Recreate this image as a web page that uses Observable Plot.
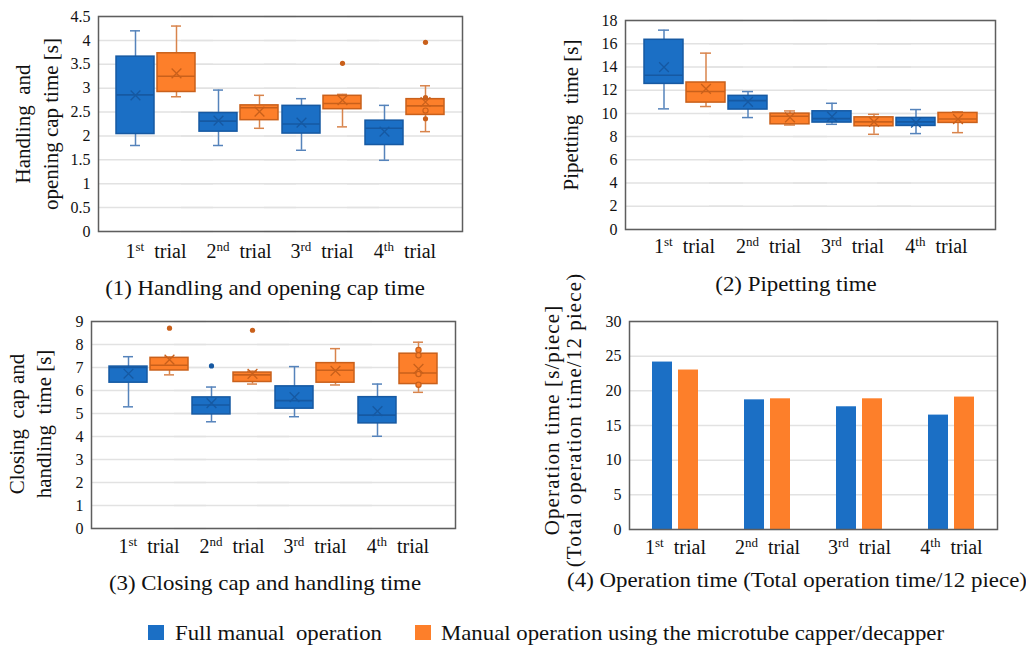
<!DOCTYPE html>
<html><head><meta charset="utf-8">
<script src="https://cdn.jsdelivr.net/npm/d3@7"></script>
<script src="https://cdn.jsdelivr.net/npm/@observablehq/plot@0.6"></script>
<style>
body{margin:0;width:1026px;height:646px;position:relative;background:#fff;overflow:hidden;font-family:"Liberation Serif","Times New Roman",serif;color:#111}
.panel{position:absolute}
.cap{position:absolute;font-size:21px;line-height:21px;white-space:pre;transform:translateX(-50%) scaleX(1.09)}
.ylab{position:absolute;font-size:21px;white-space:pre;text-align:center;transform:translate(-50%,-50%) rotate(-90deg)}
.ylab div{white-space:pre}
.leg{position:absolute;font-size:21px;line-height:21px;white-space:pre;transform:scaleX(1.085);transform-origin:0 50%}
.sw{position:absolute;width:16px;height:15px}
</style></head>
<body>
<script>
// ---------- data ----------
const trials = ["1st trial", "2nd trial", "3rd trial", "4th trial"];
const seriesNames = ["Full manual  operation", "Manual operation using the microtube capper/decapper"];
const seriesColors = ["#1b6fc5", "#fd7f2a"];

// box statistics per trial: [lower whisker, Q1, median, Q3, upper whisker, mean]
const handlingManual = [[1.80,2.04,2.86,3.66,4.20,2.85],[1.80,2.09,2.31,2.48,2.96,2.32],[1.70,2.05,2.25,2.63,2.78,2.28],[1.49,1.81,2.16,2.32,2.64,2.09]];
const handlingCapper = [[2.82,2.92,3.25,3.73,4.30,3.31],[2.16,2.33,2.59,2.64,2.85,2.51],[2.19,2.56,2.68,2.84,2.87,2.75],[2.09,2.44,2.63,2.77,3.05,2.71]];
const handlingManualOutliers = [[],[],[],[]];
const handlingCapperOutliers = [[],[],[3.52],[3.96,2.80,2.36]];
const handlingCapperInner = [[],[],[],[2.53]];

const pipettingManual = [[10.39,12.54,13.29,16.34,17.17,13.98],[9.64,10.33,11.10,11.51,11.88,10.99],[9.06,9.21,9.55,10.18,10.87,9.72],[8.26,8.92,9.27,9.61,10.33,9.20]];
const pipettingCapper = [[10.59,10.93,11.88,12.66,15.19,12.11],[9.00,9.06,9.75,9.98,10.21,9.66],[8.20,8.89,9.27,9.66,9.92,9.27],[8.34,9.18,9.52,10.04,10.13,9.50]];

const closingManual = [[5.29,6.34,7.00,7.04,7.47,6.73],[4.64,4.96,5.37,5.70,6.15,5.45],[4.86,5.21,5.56,6.18,7.04,5.71],[4.01,4.57,4.93,5.71,6.28,5.10]];
const closingCapper = [[6.68,6.87,7.10,7.42,7.45,7.34],[6.28,6.37,6.68,6.78,6.84,6.72],[6.24,6.34,6.88,7.19,7.82,6.85],[5.92,6.28,6.76,7.60,8.10,6.94]];
const closingManualOutliers = [[],[7.07],[],[]];
const closingCapperOutliers = [[8.71],[8.62],[],[]];
const closingCapperInner = [[],[],[],[7.76,7.53,6.72,6.25]];

const operationManual = [24.15, 18.70, 17.70, 16.50];
const operationCapper = [23.00, 18.85, 18.85, 19.10];

const handlingTicks = [0,0.5,1,1.5,2,2.5,3,3.5,4,4.5];
const pipettingTicks = [0,2,4,6,8,10,12,14,16,18];
const closingTicks = [0,1,2,3,4,5,6,7,8,9];
const operationTicks = [0,5,10,15,20,25,30];

// ---------- styling ----------
const boxEdge = ["#1659a2", "#c9601b"];
const whiskerColor = ["#5583bb", "#d8844c"];
const gridColor = "#e2e2e2";
const frameColor = "#5e5e5e";
const font = '"Liberation Serif","Times New Roman",serif';
const none4 = [[],[],[],[]];

function statRows(arr, s) {
  return arr.map((v, i) => ({trial: trials[i], series: seriesNames[s], lo: v[0], q1: v[1], med: v[2], q3: v[3], hi: v[4], mean: v[5]}));
}
function pointRows(lists, s) {
  const out = [];
  lists.forEach((l, i) => l.forEach(v => out.push({trial: trials[i], series: seriesNames[s], v})));
  return out;
}

function supTicks(svg) {
  const ns = "http://www.w3.org/2000/svg";
  svg.querySelectorAll('g[aria-label="fx-axis tick label"] text').forEach(t => {
    const m = t.textContent.match(/^(\d)(st|nd|rd|th)\s+(.*)$/);
    if (!m) return;
    t.textContent = "";
    t.style.whiteSpace = "pre";
    const a = document.createElementNS(ns, "tspan"); a.textContent = m[1];
    const b = document.createElementNS(ns, "tspan"); b.textContent = m[2];
    b.setAttribute("font-size", "13"); b.setAttribute("dy", "-7");
    const c = document.createElementNS(ns, "tspan"); c.textContent = "  " + m[3];
    c.setAttribute("dy", "7");
    t.append(a, b, c);
  });
}

// the visible frame extends "ext" px beyond the band of trial groups on each side
function commonMarks(ticks, tickPad, ext) {
  return [
    Plot.ruleY(ticks, {y: d => d, stroke: gridColor, strokeWidth: 1.5, insetLeft: -ext, insetRight: -ext}),
    Plot.axisY(ticks, {tickSize: 0, tickPadding: 8 + ext, fontSize: 16, label: null, tickFormat: d => String(d)}),
    Plot.axisFx({anchor: "bottom", tickSize: 0, tickPadding: tickPad, fontSize: 20, label: null})
  ];
}

function boxPanel({manual, capper, outliers, inner, ticks, dims, ext, tickPad}) {
  const marks = [...commonMarks(ticks, tickPad, ext)];
  [manual, capper].forEach((arr, s) => {
    const rows = statRows(arr, s);
    const o = {fx: "trial", x: "series"};
    marks.push(
      Plot.ruleX(rows, {...o, y1: "lo", y2: "q1", stroke: whiskerColor[s], strokeWidth: 1.5}),
      Plot.ruleX(rows, {...o, y1: "q3", y2: "hi", stroke: whiskerColor[s], strokeWidth: 1.5}),
      Plot.tickY(rows, {...o, y: "lo", stroke: whiskerColor[s], strokeWidth: 1.5, insetLeft: 14, insetRight: 14}),
      Plot.tickY(rows, {...o, y: "hi", stroke: whiskerColor[s], strokeWidth: 1.5, insetLeft: 14, insetRight: 14}),
      Plot.barY(rows, {...o, y1: "q1", y2: "q3", fill: seriesColors[s], stroke: boxEdge[s], strokeWidth: 1.5}),
      Plot.tickY(rows, {...o, y: "med", stroke: boxEdge[s], strokeWidth: 1.6}),
      Plot.dot(rows, {...o, y: "mean", symbol: "times", r: 4.5, stroke: boxEdge[s], strokeWidth: 1.3}),
      Plot.dot(pointRows(outliers[s], s), {...o, y: "v", r: 2.6, fill: boxEdge[s], stroke: "none"}),
      Plot.dot(pointRows(inner[s], s), {...o, y: "v", r: 2.6, fill: seriesColors[s], stroke: boxEdge[s], strokeWidth: 1.2})
    );
  });
  marks.push(Plot.frame({facet: "super", stroke: frameColor, strokeWidth: 1.5, insetLeft: -ext, insetRight: -ext}));
  const svg = Plot.plot({
    ...dims,
    style: {fontFamily: font, fontSize: "16px", color: "#111", background: "transparent", overflow: "visible"},
    fx: {domain: trials, padding: 0},
    x: {domain: seriesNames, paddingInner: 0.08, paddingOuter: 0.03, axis: null},
    y: {domain: [ticks[0], ticks[ticks.length - 1]]},
    marks
  });
  supTicks(svg);
  return svg;
}

function barPanel({manual, capper, ticks, dims, tickPad}) {
  const rows = [];
  [manual, capper].forEach((arr, s) => arr.forEach((v, i) => rows.push({trial: trials[i], series: seriesNames[s], value: v})));
  const svg = Plot.plot({
    ...dims,
    style: {fontFamily: font, fontSize: "16px", color: "#111", background: "transparent", overflow: "visible"},
    fx: {domain: trials, padding: 0},
    x: {domain: seriesNames, paddingInner: 0.224, paddingOuter: 0.875, axis: null},
    y: {domain: [ticks[0], ticks[ticks.length - 1]]},
    color: {domain: seriesNames, range: seriesColors},
    marks: [
      ...commonMarks(ticks, tickPad, 0),
      Plot.barY(rows, {fx: "trial", x: "series", y: "value", fill: "series"}),
      Plot.frame({facet: "super", stroke: frameColor, strokeWidth: 1.5})
    ]
  });
  supTicks(svg);
  return svg;
}

function place(el, left, top) {
  const d = document.createElement("div");
  d.className = "panel"; d.style.left = left + "px"; d.style.top = top + "px";
  d.append(el); document.body.append(d);
}

place(boxPanel({
  manual: handlingManual, capper: handlingCapper,
  outliers: [handlingManualOutliers, handlingCapperOutliers], inner: [none4, handlingCapperInner],
  ticks: handlingTicks, ext: 16, tickPad: 12,
  dims: {width: 480, height: 270, marginLeft: 112, marginRight: 33, marginTop: 16, marginBottom: 39}
}), 0, 0);

place(boxPanel({
  manual: pipettingManual, capper: pipettingCapper,
  outliers: [none4, none4], inner: [none4, none4],
  ticks: pipettingTicks, ext: 17, tickPad: 9,
  dims: {width: 506, height: 270, marginLeft: 120, marginRight: 47, marginTop: 20, marginBottom: 41}
}), 520, 0);

place(boxPanel({
  manual: closingManual, capper: closingCapper,
  outliers: [closingManualOutliers, closingCapperOutliers], inner: [none4, closingCapperInner],
  ticks: closingTicks, ext: 16, tickPad: 10,
  dims: {width: 480, height: 270, marginLeft: 107, marginRight: 41, marginTop: 21, marginBottom: 42}
}), 0, 300);

place(barPanel({
  manual: operationManual, capper: operationCapper,
  ticks: operationTicks, tickPad: 10,
  dims: {width: 506, height: 270, marginLeft: 108, marginRight: 29, marginTop: 21, marginBottom: 41}
}), 520, 300);

// ---------- text: axis titles, captions, legend ----------
function ylab(lines, cx, cy, lh, size, ls) {
  const d = document.createElement("div");
  d.className = "ylab"; d.style.left = cx + "px"; d.style.top = cy + "px";
  d.style.lineHeight = lh + "px"; if (size) d.style.fontSize = size + "px";
  if (ls) d.style.letterSpacing = ls + "px";
  lines.forEach(l => { const r = document.createElement("div"); r.textContent = l; d.append(r); });
  document.body.append(d);
}
function cap(text, cx, top) {
  const d = document.createElement("div");
  d.className = "cap"; d.style.left = cx + "px"; d.style.top = top + "px"; d.textContent = text;
  document.body.append(d);
}
ylab(["Handling  and", "opening cap time [s]"], 37, 124, 28);
ylab(["Pipetting  time [s]"], 571, 115, 24);
ylab(["Closing  cap and", "handling  time [s]"], 31, 424, 27);
ylab(["Operation time [s/piece]", "(Total operation time/12 piece)"], 563, 420, 22, 21, 1.1);

cap("(1) Handling and opening cap time", 265, 278);
cap("(2) Pipetting time", 796, 274);
cap("(3) Closing cap and handling time", 265, 573);
cap("(4) Operation time (Total operation time/12 piece)", 797, 570);

[[148, 175], [415, 441]].forEach(([sx, tx], s) => {
  const sw = document.createElement("div");
  sw.className = "sw"; sw.style.left = sx + "px"; sw.style.top = "625px"; sw.style.background = seriesColors[s];
  document.body.append(sw);
  const t = document.createElement("div");
  t.className = "leg"; t.style.left = tx + "px"; t.style.top = "623px"; t.textContent = seriesNames[s];
  document.body.append(t);
});
</script>
</body></html>
